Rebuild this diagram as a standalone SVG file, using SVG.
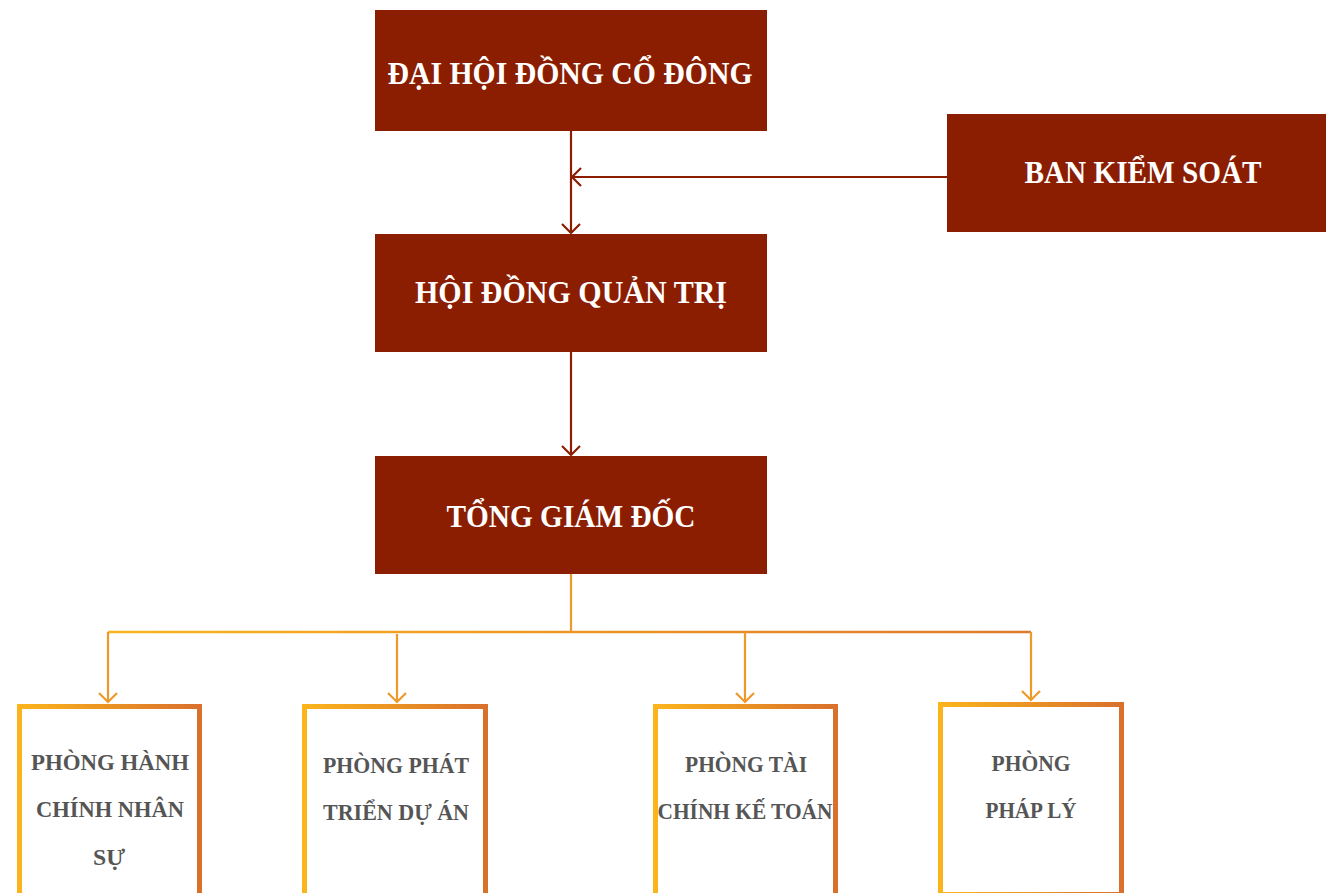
<svg xmlns="http://www.w3.org/2000/svg" width="1326" height="893" viewBox="0 0 1326 893">
<defs>
<linearGradient id="boxGrad" x1="0" y1="0" x2="1" y2="0">
<stop offset="0" stop-color="#FBB41C"/>
<stop offset="1" stop-color="#D9702C"/>
</linearGradient>
<linearGradient id="lineGrad" gradientUnits="userSpaceOnUse" x1="108" y1="0" x2="1031" y2="0">
<stop offset="0" stop-color="#FBB41C"/>
<stop offset="1" stop-color="#DE7A2A"/>
</linearGradient>
<marker id="arrRed" markerWidth="24" markerHeight="24" refX="12" refY="12" orient="auto" markerUnits="userSpaceOnUse">
<path d="M3,3 L12,12 L3,21" fill="none" stroke="#8B1E00" stroke-width="2.2"/>
</marker>
<marker id="arrOr" markerWidth="24" markerHeight="24" refX="12" refY="12" orient="auto" markerUnits="userSpaceOnUse">
<path d="M3,3 L12,12 L3,21" fill="none" stroke="#EE9A2A" stroke-width="2.2"/>
</marker>
</defs>
<style>
.main{fill:#8B1E00}
.mt{fill:#ffffff;font-family:"Liberation Serif","DejaVu Serif",serif;font-weight:bold;font-size:32px;text-anchor:middle}
.sub{fill:#ffffff;stroke:url(#boxGrad);stroke-width:5}
.st{fill:#555555;font-family:"Liberation Serif","DejaVu Serif",serif;font-weight:bold;font-size:24px;text-anchor:middle}
.cr{fill:none;stroke:#8B1E00;stroke-width:2.2}
.co{fill:none;stroke:#EE9A2A;stroke-width:2.2}
</style>
<g id="connectors">
<line class="cr" x1="571" y1="131" x2="571" y2="233" marker-end="url(#arrRed)"/>
<line class="cr" x1="947" y1="177" x2="572" y2="177" marker-end="url(#arrRed)"/>
<line class="cr" x1="571" y1="352" x2="571" y2="455" marker-end="url(#arrRed)"/>
<line class="co" x1="571" y1="574" x2="571" y2="632"/>
<path d="M108,632 L1031,632" fill="none" stroke="url(#lineGrad)" stroke-width="2.5"/>
<line class="co" x1="108" y1="632" x2="108" y2="702" stroke="#F8AE20" marker-end="url(#arrOr)"/>
<line class="co" x1="397" y1="634" x2="397" y2="702" marker-end="url(#arrOr)"/>
<line class="co" x1="745" y1="632" x2="745" y2="702" marker-end="url(#arrOr)"/>
<line class="co" x1="1031" y1="632" x2="1031" y2="700" marker-end="url(#arrOr)"/>
</g>
<g id="dhdcd">
<rect class="main" x="375" y="10" width="392" height="121"/>
<text class="mt" x="570" y="84" textLength="365" lengthAdjust="spacingAndGlyphs">ĐẠI HỘI ĐỒNG CỔ ĐÔNG</text>
</g>
<g id="bks">
<rect class="main" x="947" y="114" width="379" height="118"/>
<text class="mt" x="1143" y="183" textLength="237" lengthAdjust="spacingAndGlyphs">BAN KIỂM SOÁT</text>
</g>
<g id="hdqt">
<rect class="main" x="375" y="234" width="392" height="118"/>
<text class="mt" x="571" y="303" textLength="312" lengthAdjust="spacingAndGlyphs">HỘI ĐỒNG QUẢN TRỊ</text>
</g>
<g id="tgd">
<rect class="main" x="375" y="456" width="392" height="118"/>
<text class="mt" x="571" y="527" textLength="249" lengthAdjust="spacingAndGlyphs">TỔNG GIÁM ĐỐC</text>
</g>
<g id="hcns">
<rect class="sub" x="19.5" y="706.5" width="180" height="190"/>
<text class="st" x="110" y="770" textLength="158" lengthAdjust="spacingAndGlyphs">PHÒNG HÀNH</text>
<text class="st" x="110" y="817" textLength="148" lengthAdjust="spacingAndGlyphs">CHÍNH NHÂN</text>
<text class="st" x="109" y="865" textLength="32" lengthAdjust="spacingAndGlyphs">SỰ</text>
</g>
<g id="ptda">
<rect class="sub" x="304.5" y="706.5" width="181" height="190"/>
<text class="st" x="396" y="773" textLength="146" lengthAdjust="spacingAndGlyphs">PHÒNG PHÁT</text>
<text class="st" x="396" y="820" textLength="146" lengthAdjust="spacingAndGlyphs">TRIỂN DỰ ÁN</text>
</g>
<g id="tckt">
<rect class="sub" x="655.5" y="706.5" width="180" height="190"/>
<text class="st" x="746" y="772" textLength="122" lengthAdjust="spacingAndGlyphs">PHÒNG TÀI</text>
<text class="st" x="745" y="819" textLength="175" lengthAdjust="spacingAndGlyphs">CHÍNH KẾ TOÁN</text>
</g>
<g id="pl">
<rect class="sub" x="940.5" y="704.5" width="181" height="190"/>
<text class="st" x="1031" y="771" textLength="79" lengthAdjust="spacingAndGlyphs">PHÒNG</text>
<text class="st" x="1031" y="818" textLength="91" lengthAdjust="spacingAndGlyphs">PHÁP LÝ</text>
</g>
</svg>
